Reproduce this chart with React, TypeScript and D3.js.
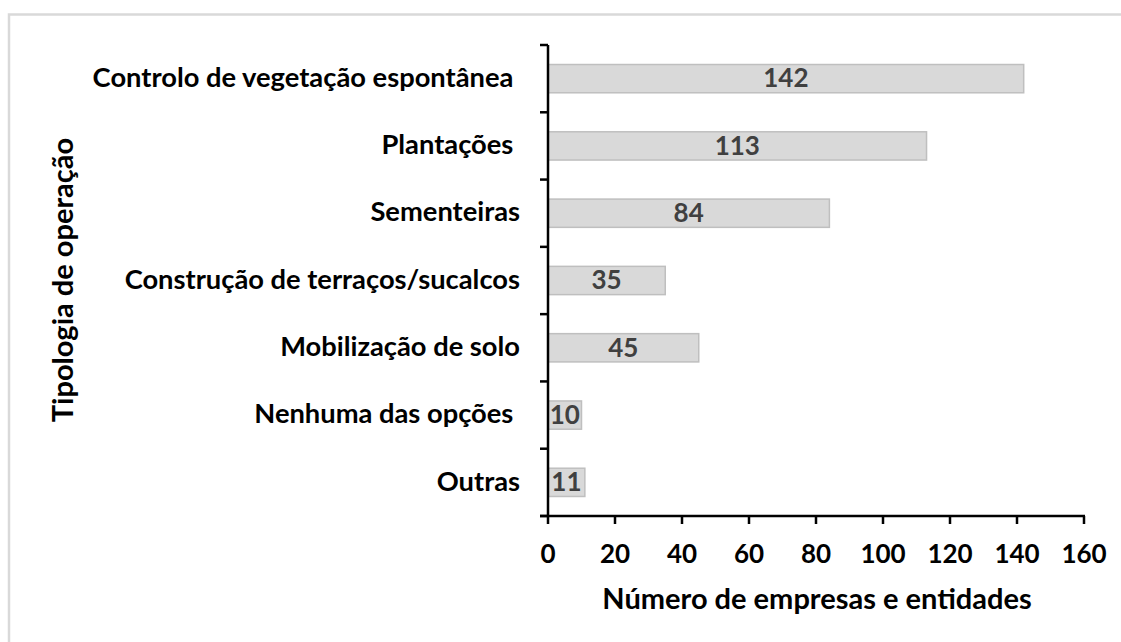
import * as d3 from 'd3';

const categories = [
  'Controlo de vegetação espontânea ',
  'Plantações ',
  'Sementeiras',
  'Construção de terraços/sucalcos',
  'Mobilização de solo',
  'Nenhuma das opções ',
  'Outras',
];
const values = [142, 113, 84, 35, 45, 10, 11];
const xTicks = [0, 20, 40, 60, 80, 100, 120, 140, 160];

const W = 1121;
const H = 642;
const font = 'Lato, "Open Sans", sans-serif';

export default function App() {
  const x = d3.scaleLinear().domain([0, 160]).range([548, 1084]);
  const y = d3
    .scaleBand<string>()
    .domain(categories)
    .range([45, 516])
    .paddingInner(0.58)
    .paddingOuter(0.29);

  // category boundaries for the y tick marks
  const step = (516 - 45) / categories.length;
  const yTicks = d3.range(categories.length + 1).map((i) => 45 + i * step);

  return (
    <svg
      width={W}
      height={H}
      style={{ position: 'absolute', left: 0, top: 0, background: '#fff' }}
      fontFamily={font}
    >
      {/* chart frame */}
      <rect x={9} y={14.5} width={W + 20} height={H + 20} fill="none" stroke="#d9d9d9" strokeWidth={2.5} />

      {/* bars */}
      {categories.map((c, i) => (
        <g key={c}>
          <rect
            x={x(0)}
            y={y(c)}
            width={x(values[i]) - x(0)}
            height={y.bandwidth()}
            fill="#d9d9d9"
            stroke="#bfbfbf"
            strokeWidth={1.5}
          />
          <text
            x={(x(0) + x(values[i])) / 2}
            y={(y(c) ?? 0) + y.bandwidth() / 2}
            dy="0.34em"
            textAnchor="middle"
            fontSize={26}
            fontWeight="bold"
            fill="#404040"
          >
            {values[i]}
          </text>
          <text
            x={520}
            y={(y(c) ?? 0) + y.bandwidth() / 2}
            dy="0.3em"
            textAnchor="end"
            fontSize={27.3}
            fontWeight="bold"
            fill="#000"
            style={{ whiteSpace: 'pre' }}
          >
            {c}
          </text>
        </g>
      ))}

      {/* y axis */}
      <line x1={548} x2={548} y1={45} y2={517} stroke="#000" strokeWidth={2.5} />
      {yTicks.map((t, i) => (
        <line key={i} x1={540} x2={548} y1={t} y2={t} stroke="#000" strokeWidth={2.5} />
      ))}

      {/* x axis */}
      <line x1={540} x2={x(160) + 1} y1={516} y2={516} stroke="#000" strokeWidth={2.5} />
      {xTicks.map((t) => (
        <g key={t}>
          <line x1={x(t)} x2={x(t)} y1={516} y2={524} stroke="#000" strokeWidth={2.5} />
          <text x={x(t)} y={563} textAnchor="middle" fontSize={26} fontWeight="bold" fill="#000">
            {t}
          </text>
        </g>
      ))}

      {/* axis titles */}
      <text x={817} y={609} textAnchor="middle" fontSize={29} fontWeight="bold" fill="#000">
        Número de empresas e entidades
      </text>
      <text
        transform="translate(73,280) rotate(-90)"
        textAnchor="middle"
        fontSize={29}
        fontWeight="bold"
        fill="#000"
      >
        Tipologia de operação
      </text>
    </svg>
  );
}
